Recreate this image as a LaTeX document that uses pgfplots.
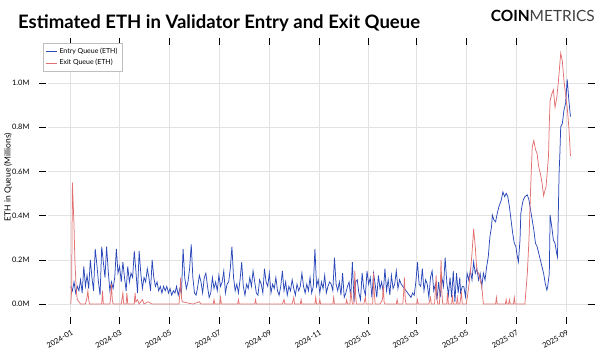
\documentclass[border=0pt]{standalone}
\usepackage{fontspec}
\setmainfont{Lato}
\usepackage{pgfplots}
\pgfplotsset{compat=1.18}
\definecolor{entryblue}{RGB}{42,72,185}
\definecolor{exitred}{RGB}{226,112,112}
\definecolor{gridgray}{RGB}{226,226,226}
\begin{document}
\begin{tikzpicture}
\path[use as bounding box] (0,0) rectangle (600bp,354bp);
\begin{axis}[
  at={(48bp,42bp)}, anchor=south west,
  scale only axis, width=542bp, height=272bp,
  xmin=-28, xmax=638, ymin=-0.036, ymax=1.195,
  axis line style={draw=none},
  grid=major, major grid style={gridgray, line width=0.6pt},
  tick align=outside, major tick length=7bp,
  xtick={0,60,121,182,244,305,366,425,486,547,609},
  xticklabels={2024-01,2024-03,2024-05,2024-07,2024-09,2024-11,2025-01,2025-03,2025-05,2025-07,2025-09},
  ytick={0,0.2,0.4,0.6,0.8,1.0},
  yticklabels={0.0M,0.2M,0.4M,0.6M,0.8M,1.0M},
  x tick style={black, line width=0.7pt, yshift=-5bp},
  y tick style={black, line width=0.7pt, xshift=-2bp},
  xticklabel style={font=\fontsize{7.5}{8}\selectfont, rotate=30, anchor=north east, yshift=-8bp, xshift=-4bp, inner sep=1pt},
  yticklabel style={font=\fontsize{7.5}{8}\selectfont, anchor=east, xshift=-8bp},
  legend style={at={(-0.009,0.989)}, anchor=north west, draw=gray!50, font=\fontsize{7}{8}\selectfont, inner sep=2.5pt, row sep=1pt, cells={anchor=west}},
  legend image code/.code={\draw[#1] (0bp,0bp) -- (11bp,0bp);},
  clip=false,
]
\addplot[entryblue, line width=0.75pt] coordinates {
(0,0.08)(2,0.06)(4,0.10)(6,0.05)(8,0.08)(10,0.06)(12,0.11)(14,0.05)(16,0.17)(18,0.08)(20,0.13)(22,0.07)(24,0.20)(26,0.12)(28,0.06)(30,0.25)(32,0.18)(34,0.10)(36,0.04)(38,0.26)(40,0.19)(42,0.12)(44,0.26)(46,0.15)(48,0.06)(50,0.10)(52,0.07)(54,0.12)(56,0.25)(58,0.14)(60,0.17)(62,0.10)(64,0.19)(66,0.12)(68,0.06)(70,0.17)(72,0.10)(74,0.14)(76,0.12)(78,0.24)(80,0.15)(82,0.05)(84,0.24)(86,0.14)(88,0.07)(90,0.12)(92,0.10)(94,0.16)(96,0.12)(98,0.06)(100,0.20)(102,0.12)(104,0.08)(106,0.10)(108,0.06)(110,0.08)(112,0.05)(114,0.08)(116,0.06)(118,0.08)(120,0.05)(122,0.07)(124,0.04)(126,0.06)(128,0.05)(130,0.08)(132,0.04)(134,0.07)(136,0.05)(138,0.25)(140,0.12)(142,0.07)(144,0.10)(146,0.16)(148,0.27)(150,0.12)(152,0.05)(154,0.04)(156,0.08)(158,0.13)(160,0.10)(162,0.05)(164,0.12)(166,0.14)(168,0.08)(170,0.03)(172,0.05)(174,0.12)(176,0.07)(178,0.10)(180,0.06)(182,0.13)(184,0.08)(186,0.10)(188,0.15)(190,0.05)(192,0.09)(194,0.10)(196,0.16)(198,0.26)(200,0.12)(202,0.06)(204,0.09)(206,0.05)(208,0.11)(210,0.19)(212,0.08)(214,0.04)(216,0.09)(218,0.07)(220,0.12)(222,0.08)(224,0.15)(226,0.10)(228,0.05)(230,0.04)(232,0.11)(234,0.09)(236,0.05)(238,0.16)(240,0.10)(242,0.08)(244,0.14)(246,0.05)(248,0.09)(250,0.07)(252,0.12)(254,0.06)(256,0.04)(258,0.08)(260,0.15)(262,0.06)(264,0.10)(266,0.04)(268,0.08)(270,0.06)(272,0.11)(274,0.07)(276,0.04)(278,0.09)(280,0.06)(282,0.08)(284,0.14)(286,0.08)(288,0.05)(290,0.09)(292,0.06)(294,0.12)(296,0.05)(298,0.08)(300,0.25)(302,0.08)(304,0.11)(306,0.05)(308,0.10)(310,0.07)(312,0.13)(314,0.05)(316,0.08)(318,0.10)(320,0.09)(322,0.06)(324,0.21)(326,0.09)(328,0.06)(330,0.10)(332,0.04)(334,0.14)(336,0.03)(338,0.05)(340,0.08)(342,0.10)(344,0.03)(346,0.19)(348,0.01)(350,0.10)(352,0.11)(354,0.05)(356,0.02)(358,0.14)(360,0.07)(362,0.04)(364,0.15)(366,0.09)(368,0.12)(370,0.03)(372,0.14)(374,0.09)(376,0.03)(378,0.13)(380,0.07)(382,0.10)(384,0.05)(386,0.16)(388,0.06)(390,0.11)(392,0.04)(394,0.13)(396,0.07)(398,0.09)
(400,0.15)(402,0.07)(404,0.11)(406,0.09)(408,0.08)(410,0.07)(412,0.06)(414,0.05)(416,0.04)(418,0.03)(420,0.05)(422,0.04)(424,0.10)(426,0.19)(428,0.09)(430,0.08)(432,0.16)(434,0.06)(436,0.11)(438,0.09)(440,0.03)(442,0.12)(444,0.15)(446,0.06)(448,0.09)(450,0.02)(452,0.10)(454,0.03)(456,0.12)(458,0.08)(460,0.21)(462,0.10)(464,0.04)(466,0.12)(468,0.03)(470,0.15)(472,0.01)(474,0.14)(476,0.05)(478,0.12)(479,0.05)(481,0.08)(483,0.078)(485,0.033)(487,0.139)(489,0.109)(491,0.154)(493,0.109)(495,0.191)(497,0.139)(499,0.161)(501,0.109)(503,0.139)(505,0.078)(507,0.139)(509,0.109)(511,0.169)(513,0.214)(515,0.305)(517,0.35)(518,0.403)(520,0.38)(522,0.372)(524,0.41)(526,0.44)(529,0.471)(531,0.508)(533,0.486)(535,0.501)(537,0.486)(539,0.44)(541,0.38)(543,0.32)(545,0.275)(547,0.26)(548,0.23)(550,0.191)(552,0.29)(553,0.41)(555,0.456)(556,0.471)(558,0.486)(561,0.494)(563,0.471)(565,0.425)(567,0.38)(569,0.335)(571,0.275)(573,0.26)(575,0.23)(577,0.2)(579,0.169)(581,0.139)(583,0.094)(585,0.063)(586,0.078)(588,0.139)(589,0.403)(591,0.35)(593,0.29)(595,0.275)(597,0.23)(598,0.214)(600,0.591)(601,0.682)(602,0.802)(604,0.817)(606,0.878)(608,0.908)(610,1.017)(612,0.923)(614,0.848)
};
\addlegendentry{Entry Queue (ETH)}
\addplot[exitred, line width=0.75pt] coordinates {
(0,0.0)(1,0.06)(2,0.55)(3,0.45)(4,0.35)(5,0.2)(6,0.12)(7,0.05)(8,0.02)(10,0.01)(12,0.0)(18,0.0)(20,0.03)(21,0.06)(22,0.02)(23,0.0)(30,0.0)(38,0.0)(39,0.06)(40,0.0)(48,0.0)(49,0.03)(50,0.09)(51,0.02)(52,0.0)(62,0.0)(64,0.05)(65,0.0)(68,0.0)(69,0.05)(70,0.0)(78,0.0)(79,0.05)(80,0.01)(82,0.02)(84,0.0)(88,0.02)(90,0.0)(95,0.01)(100,0.0)(120,0.0)(133,0.0)(134,0.05)(135,0.12)(136,0.03)(137,0.01)(150,0.0)(158,0.01)(160,0.0)(175,0.0)(176,0.02)(177,0.0)(183,0.0)(184,0.03)(185,0.0)(205,0.0)(206,0.02)(207,0.0)(226,0.0)(227,0.02)(228,0.0)(260,0.0)(262,0.02)(263,0.0)(272,0.0)(274,0.03)(275,0.0)(282,0.0)(283,0.02)(284,0.0)(300,0.0)(301,0.03)(302,0.0)(305,0.0)(306,0.02)(307,0.0)(322,0.0)(323,0.03)(324,0.0)(338,0.0)(339,0.02)(340,0.0)(343,0.0)(344,0.06)(345,0.03)(346,0.0)(348,0.0)(349,0.15)(350,0.04)(351,0.0)(360,0.0)(362,0.03)(363,0.0)(371,0.0)(372,0.14)(373,0.05)(374,0.0)(380,0.0)(383,0.02)(384,0.08)(385,0.01)(386,0.0)(400,0.0)(401,0.02)(402,0.0)(408,0.0)(409,0.05)(410,0.12)(411,0.02)(412,0.0)(425,0.0)(426,0.02)(427,0.0)(440,0.0)(442,0.03)(443,0.0)(447,0.0)(448,0.06)(449,0.13)(450,0.02)(451,0.0)(453,0.0)(454,0.08)(455,0.2)(456,0.05)(457,0.0)(462,0.0)(463,0.05)(464,0.0)(468,0.0)(469,0.04)(470,0.0)(474,0.0)(475,0.03)(476,0.0)(478,0.0)(480,0.05)(481,0.0)(486,0.0)(488,0.05)(491,0.14)(493,0.23)(495,0.34)(497,0.26)(499,0.15)(501,0.14)(503,0.11)(505,0.08)(507,0.0)(522,0.0)(523,0.03)(524,0.0)(534,0.0)(535,0.02)(536,0.0)(538,0.0)(539,0.02)(540,0.0)(544,0.0)(545,0.03)(546,0.0)(558,0.0)(561,0.14)(563,0.29)(565,0.52)(567,0.71)(569,0.74)(571,0.70)(573,0.68)(575,0.62)(577,0.59)(579,0.55)(581,0.49)(583,0.52)(584,0.53)(587,0.67)(588,0.82)(589,0.92)(591,0.95)(593,0.97)(595,0.89)(597,0.93)(599,1.0)(602,1.135)(604,1.10)(606,1.01)(608,0.95)(610,0.89)(612,0.80)(614,0.67)
};
\addlegendentry{Exit Queue (ETH)}
\end{axis}
\node[anchor=base west, inner sep=0pt, font=\fontsize{18.6}{20}\selectfont\bfseries] at (18bp,325bp) {Estimated ETH in Validator Entry and Exit Queue};
\node[anchor=base east, inner sep=0pt, font=\fontsize{15.5}{17}\selectfont] at (595bp,332bp) {\textbf{COIN}\textcolor{black!75}{METRICS}};
\node[rotate=90, inner sep=0pt, font=\fontsize{8.5}{10}\selectfont] at (8bp,177bp) {ETH in Queue (Millions)};
\end{tikzpicture}
\end{document}
